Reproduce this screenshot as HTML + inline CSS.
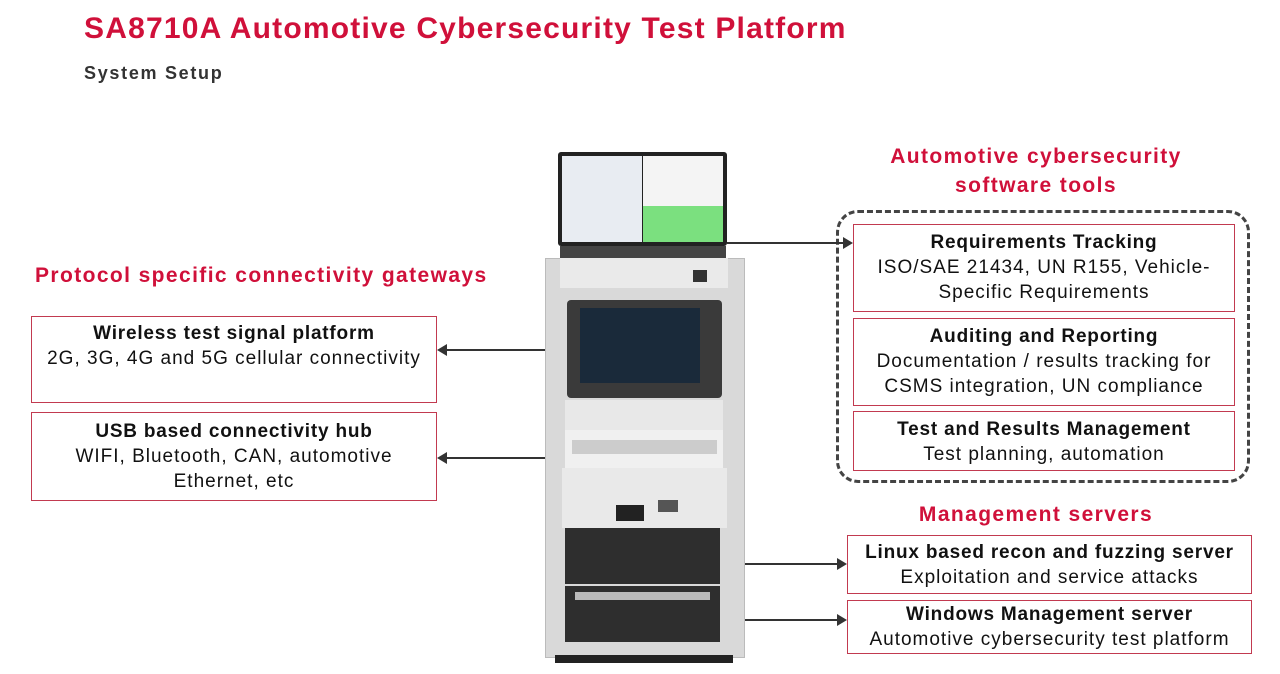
<!DOCTYPE html>
<html><head><meta charset="utf-8"><style>
body{margin:0;width:1280px;height:674px;background:#fff;position:relative;overflow:hidden;font-family:"Liberation Sans",Arial,sans-serif;}
.a{position:absolute;}
.red{color:#d0103a;font-weight:bold;}
.h{font-size:21px;letter-spacing:1.4px;}
.box{position:absolute;border:1px solid #c23a50;text-align:center;color:#111;font-size:19px;letter-spacing:1px;line-height:25px;box-sizing:border-box;background:#fff;white-space:nowrap;}
.box b{font-size:19px;letter-spacing:0.8px;}
.ln{position:absolute;height:2px;background:#333;}
</style></head><body>
<div class="a red" style="left:84px;top:12px;font-size:30px;letter-spacing:1.2px">SA8710A Automotive Cybersecurity Test Platform</div>
<div class="a" style="left:84px;top:63px;font-size:18px;letter-spacing:1.7px;font-weight:bold;color:#333">System Setup</div>
<div class="a red h" style="left:35px;top:264px">Protocol specific connectivity gateways</div>
<div class="box" style="left:31px;top:316px;width:406px;height:87px;padding-top:4px"><b>Wireless test signal platform</b><br>2G, 3G, 4G and 5G cellular connectivity</div>
<div class="box" style="left:31px;top:412px;width:406px;height:89px;padding-top:6px"><b>USB based connectivity hub</b><br>WIFI, Bluetooth, CAN, automotive<br>Ethernet, etc</div>
<div class="a red h" style="left:836px;top:142px;width:400px;text-align:center;line-height:29px">Automotive cybersecurity<br>software tools</div>
<div class="a" style="left:836px;top:210px;width:414px;height:273px;border:3px dashed #444;border-radius:22px;box-sizing:border-box"></div>
<div class="box" style="left:853px;top:224px;width:382px;height:88px;padding-top:5px"><b>Requirements Tracking</b><br>ISO/SAE 21434, UN R155, Vehicle-<br>Specific Requirements</div>
<div class="box" style="left:853px;top:318px;width:382px;height:88px;padding-top:5px"><b>Auditing and Reporting</b><br>Documentation / results tracking for<br>CSMS integration, UN compliance</div>
<div class="box" style="left:853px;top:411px;width:382px;height:60px;padding-top:5px"><b>Test and Results Management</b><br>Test planning, automation</div>
<div class="a red h" style="left:836px;top:503px;width:400px;text-align:center">Management servers</div>
<div class="box" style="left:847px;top:535px;width:405px;height:59px;padding-top:4px"><b>Linux based recon and fuzzing server</b><br>Exploitation and service attacks</div>
<div class="box" style="left:847px;top:600px;width:405px;height:54px;padding-top:1px"><b>Windows Management server</b><br>Automotive cybersecurity test platform</div>
<!-- connectors -->
<div class="ln" style="left:445px;top:349px;width:120px"></div>
<div class="a" style="left:437px;top:344px;border-right:10px solid #333;border-top:6px solid transparent;border-bottom:6px solid transparent"></div>
<div class="ln" style="left:445px;top:457px;width:120px"></div>
<div class="a" style="left:437px;top:452px;border-right:10px solid #333;border-top:6px solid transparent;border-bottom:6px solid transparent"></div>
<div class="ln" style="left:727px;top:242px;width:117px"></div>
<div class="a" style="left:843px;top:237px;border-left:10px solid #333;border-top:6px solid transparent;border-bottom:6px solid transparent"></div>
<div class="ln" style="left:722px;top:563px;width:116px"></div>
<div class="a" style="left:837px;top:558px;border-left:10px solid #333;border-top:6px solid transparent;border-bottom:6px solid transparent"></div>
<div class="ln" style="left:722px;top:619px;width:116px"></div>
<div class="a" style="left:837px;top:614px;border-left:10px solid #333;border-top:6px solid transparent;border-bottom:6px solid transparent"></div>
<!-- rack -->
<div class="a" style="left:558px;top:152px;width:169px;height:94px;background:#222;border-radius:3px"></div>
<div class="a" style="left:562px;top:156px;width:80px;height:86px;background:#e8ecf2"></div>
<div class="a" style="left:643px;top:156px;width:80px;height:50px;background:#f4f4f4"></div>
<div class="a" style="left:643px;top:206px;width:80px;height:36px;background:#7be07f"></div>
<div class="a" style="left:560px;top:246px;width:166px;height:12px;background:#444"></div>
<div class="a" style="left:545px;top:258px;width:198px;height:398px;background:#d9d9d9;border:1px solid #bbb"></div>
<div class="a" style="left:560px;top:258px;width:168px;height:30px;background:#eaeaea"></div>
<div class="a" style="left:693px;top:270px;width:14px;height:12px;background:#333"></div>
<div class="a" style="left:567px;top:300px;width:155px;height:98px;background:#3a3a3a;border-radius:4px"></div>
<div class="a" style="left:580px;top:308px;width:120px;height:75px;background:#1a2a3a"></div>
<div class="a" style="left:565px;top:400px;width:158px;height:30px;background:#e8e8e8"></div>
<div class="a" style="left:565px;top:430px;width:158px;height:38px;background:#f0f0f0"></div>
<div class="a" style="left:572px;top:440px;width:145px;height:14px;background:#ccc"></div>
<div class="a" style="left:562px;top:468px;width:165px;height:60px;background:#e9e9e9"></div>
<div class="a" style="left:616px;top:505px;width:28px;height:16px;background:#222"></div>
<div class="a" style="left:658px;top:500px;width:20px;height:12px;background:#555"></div>
<div class="a" style="left:565px;top:528px;width:155px;height:56px;background:#2e2e2e"></div>
<div class="a" style="left:565px;top:586px;width:155px;height:56px;background:#2e2e2e"></div>
<div class="a" style="left:575px;top:592px;width:135px;height:8px;background:#bbb"></div>
<div class="a" style="left:555px;top:655px;width:178px;height:8px;background:#222"></div>
</body></html>
